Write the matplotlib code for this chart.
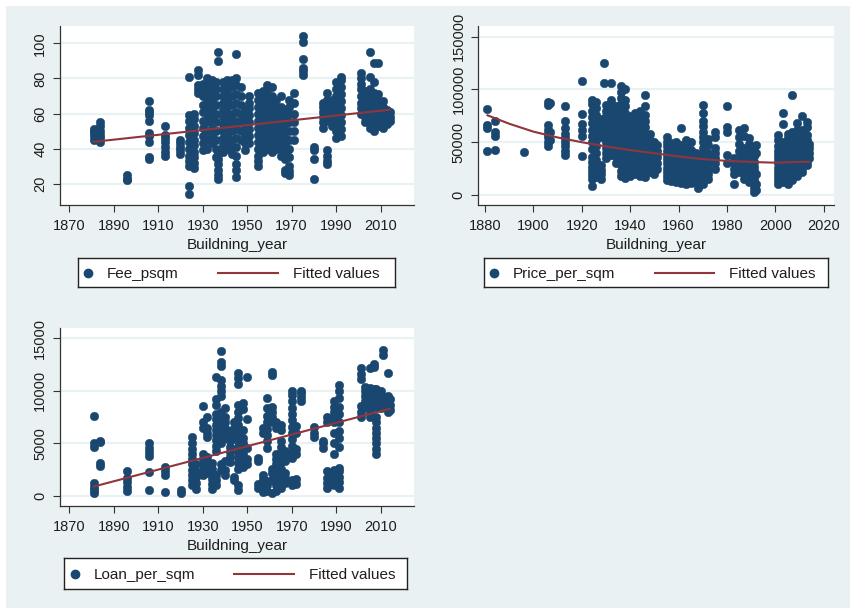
import numpy as np
import matplotlib.pyplot as plt
from matplotlib.patches import Rectangle
from matplotlib.lines import Line2D

plt.rcParams['font.family'] = ['Liberation Sans', 'DejaVu Sans']

# ---- data (one list of y values per building year) ----
fee_years = [1881, 1884, 1896, 1906, 1913, 1920, 1924, 1926, 1928, 1930, 1932, 1934,
             1936, 1937, 1939, 1941, 1943, 1945, 1947, 1949, 1951, 1955, 1957, 1959,
             1961, 1963, 1965, 1967, 1969, 1971, 1975, 1980, 1984, 1986, 1988, 1990,
             1992, 2001, 2003, 2005, 2007, 2009, 2011, 2013, 2014]
fee_vals = [
    [45, 47, 49, 50, 51],
    [44, 46, 48, 50, 53, 55],
    [22, 23, 25],
    [34, 35, 44, 47, 49, 56, 59, 61, 62, 67],
    [36, 38, 41, 44, 46, 48, 53],
    [37, 39, 41, 43, 45],
    [14, 19, 30, 33, 36, 40, 44, 48, 52, 56, 59, 81],
    [29, 32, 35, 38, 42, 45, 49, 53, 57, 60],
    [72, 74, 76, 82, 85],
    [39, 43, 47, 52, 56, 61, 65, 70, 74, 77],
    [40, 45, 50, 55, 60, 64, 68, 72, 76, 80],
    [43, 47, 51, 55, 59, 63, 67, 71, 75, 79],
    [35, 40, 45, 50, 55, 60, 65, 70, 74, 78],
    [23, 25, 28, 31, 34, 37, 90, 95],
    [38, 42, 46, 50, 54, 58, 62, 66, 70, 74, 78],
    [40, 44, 48, 52, 56, 60, 64, 68, 72, 76, 79],
    [37, 41, 45, 50, 55, 60, 65, 70, 75, 79],
    [24, 28, 31, 36, 41, 46, 51, 56, 61, 66, 71, 76, 80, 94],
    [45, 50, 55, 60, 65, 70, 75],
    [39, 43, 47, 52, 57, 62],
    [43, 47, 51, 55, 59, 63, 66, 70],
    [30, 33, 36, 40, 44, 48, 52, 56, 60, 64, 68, 72],
    [38, 42, 46, 50, 54, 58, 62, 66, 70, 73],
    [40, 44, 48, 52, 56, 60, 64, 68, 72, 76],
    [38, 42, 46, 50, 54, 58, 62, 66, 70, 75],
    [40, 44, 48, 52, 56, 60, 64, 68],
    [36, 40, 44, 48, 52, 56, 60, 64, 70],
    [26, 28, 34, 38, 42, 46, 50, 54, 58, 62],
    [25, 27, 30, 35, 40, 45, 50, 55, 60, 64, 68],
    [45, 50, 55, 60, 66, 72],
    [82, 84, 86, 91, 101, 104],
    [23, 34, 39, 41],
    [52, 55, 58, 61, 64, 66],
    [31, 33, 36, 39, 56, 60, 64, 68, 72],
    [53, 57, 61, 64, 68],
    [46, 50, 54, 58, 62, 66, 70, 74, 78],
    [47, 51, 55, 59, 63, 67, 71, 75, 79, 81],
    [60, 63, 66, 70, 74, 77, 80, 83],
    [55, 58, 61, 64, 67, 70, 73],
    [52, 55, 58, 61, 64, 67, 70, 74, 81, 95],
    [50, 53, 56, 59, 62, 65, 68, 72, 78, 89],
    [53, 56, 59, 62, 65, 68, 71, 89],
    [52, 55, 58, 61, 64, 67],
    [54, 57, 60, 62],
    [56, 58, 61],
]
fee_fit_years = [1881, 2014]
fee_fit = [43.9, 62.2]

# price per sqm, in thousands
price_years = [1881, 1884, 1896, 1906, 1907, 1913, 1920, 1924, 1926, 1928, 1929, 1930,
               1932, 1934, 1936, 1938, 1940, 1942, 1944, 1946, 1948, 1950, 1951, 1955,
               1957, 1959, 1961, 1963, 1965, 1967, 1968, 1970, 1972, 1975, 1980, 1983,
               1985, 1987, 1989, 1991, 1992, 2001, 2003, 2005, 2007, 2009, 2011, 2013, 2014]
price_vals_k = [
    [81, 66, 63, 42],
    [70, 60, 56, 43],
    [41],
    [46, 50, 55, 58, 62, 66, 85, 88],
    [52, 60, 87],
    [38, 42, 46, 50, 54, 58, 63, 70, 84],
    [37, 56, 62, 67, 77, 108],
    [9, 15, 19, 23, 27, 31, 36, 44, 50, 56, 62, 68, 74, 80, 86, 90],
    [17, 21, 25, 29, 33, 40, 46, 52, 58, 64, 70, 76, 82, 88],
    [15, 20, 24, 28, 55, 60, 66, 72],
    [125, 106],
    [35, 40, 45, 50, 55, 60, 65, 70, 75, 80, 85],
    [38, 44, 50, 56, 62, 68, 74, 80, 86, 90, 106],
    [30, 36, 42, 48, 54, 60, 66, 72, 78, 84],
    [18, 23, 28, 33, 38, 44, 50, 56, 62, 68, 74, 80, 86, 92, 98, 103],
    [16, 20, 25, 30, 36, 42, 48, 54, 60, 66, 72, 78, 84, 90, 100],
    [18, 23, 28, 33, 39, 45, 51, 57, 63, 69, 75],
    [20, 25, 30, 36, 42, 48, 54, 60, 66, 72, 78],
    [18, 24, 30, 36, 42, 48, 54, 60, 66, 72, 80],
    [17, 22, 28, 34, 40, 46, 52, 58, 64, 70, 76, 84, 95],
    [22, 28, 34, 40, 46, 52, 58],
    [20, 26, 32, 38, 44, 50],
    [25, 30, 36, 42, 47],
    [14, 18, 22, 26, 30, 34, 38, 42, 46, 50, 55],
    [13, 17, 21, 25, 29, 33, 37, 41, 45, 49],
    [12, 16, 20, 24, 28, 32, 36, 40, 44, 50],
    [11, 15, 19, 23, 27, 31, 35, 39, 43, 47, 63],
    [10, 14, 18, 22, 26, 30, 34, 38, 42, 46, 52],
    [11, 15, 19, 23, 27, 31, 35, 39, 43, 50],
    [12, 16, 20, 24, 28, 32, 36, 40],
    [7, 10, 14],
    [10, 15, 20, 25, 30, 35, 40, 45, 50, 55, 60, 65, 70, 78, 85],
    [15, 20, 25, 30, 35, 40, 47, 53],
    [25, 30, 35, 40, 45, 55, 60],
    [30, 38, 60, 64, 84],
    [10, 20, 25, 30, 35],
    [22, 28, 35, 42, 48, 55, 62],
    [15, 20, 25, 30, 35, 40, 45, 56, 63],
    [12, 18, 24, 30, 36, 42, 48, 54],
    [3, 7, 11, 15, 19, 23, 27, 31, 37, 45],
    [5, 10, 20, 40, 47],
    [10, 14, 18, 22, 26, 30, 34, 38, 42, 46, 52, 57],
    [12, 16, 20, 24, 28, 32, 36, 40, 45, 50, 67, 78],
    [10, 14, 18, 22, 26, 30, 34, 38, 42, 46, 50, 54, 58],
    [14, 18, 22, 26, 30, 34, 38, 42, 46, 50, 55, 60, 95],
    [18, 22, 26, 30, 34, 38, 42, 46, 50, 55, 62, 68],
    [22, 26, 30, 34, 38, 42, 46, 50, 56, 62, 75],
    [28, 32, 36, 40, 44, 48, 52, 57, 64, 69],
    [35, 40, 45, 48],
]
price_fit_years = [1881, 1890, 1900, 1910, 1920, 1930, 1940, 1950, 1960, 1970, 1980, 1990, 2000, 2007, 2014]
price_fit_k = [75.5, 67.5, 60.0, 54.5, 50.0, 46.0, 42.5, 39.5, 36.5, 34.0, 32.3, 31.3, 30.6, 31.2, 31.5]

loan_years = [1881, 1884, 1896, 1906, 1913, 1920, 1925, 1927, 1930, 1932, 1934, 1936,
              1938, 1940, 1942, 1944, 1946, 1948, 1950, 1955, 1957, 1959, 1961, 1963,
              1965, 1967, 1970, 1972, 1974, 1980, 1984, 1986, 1989, 1991, 2001, 2003,
              2005, 2007, 2008, 2010, 2011, 2013, 2014]
loan_vals = [
    [300, 600, 900, 1200, 4700, 5000, 7600],
    [2900, 3100, 5100, 5200],
    [500, 900, 1300, 1700, 2400],
    [600, 2300, 3800, 4200, 4600, 5000],
    [400, 2000, 2400, 2800],
    [300, 600],
    [1000, 1500, 2000, 2500, 3000, 3500, 4000, 4500, 5000, 5600],
    [700, 1200, 1800, 2400, 3000],
    [2000, 2500, 3000, 3500, 4000, 6500, 7000, 8600],
    [2200, 2700, 3200, 3700, 5600, 6000, 6500, 7500],
    [700, 1100, 1600, 2100, 2600, 3100],
    [1000, 1500, 2000, 4300, 4800, 5300, 5800, 6300, 6800, 7300, 7800, 8700, 9200, 11300],
    [2500, 3000, 5000, 5500, 6000, 6500, 7000, 7500, 8000, 9500, 10000, 10500, 11000, 12400, 12700, 13800],
    [2000, 2500, 3300, 5500, 6000, 6500, 7000, 7500, 8400],
    [3200, 3700, 4200, 4700, 5200, 5700, 6200],
    [1500, 1800, 5500, 6000, 6500, 7000],
    [600, 1000, 2600, 3100, 3700, 4200, 4700, 5200, 5700, 6200, 6800, 7400, 8000, 8700, 10700, 11200, 11700],
    [2800, 3300, 4000, 4500, 5000, 5500, 6300, 8300, 8800],
    [3000, 3500, 4600, 7300, 11300],
    [800, 1100, 3300, 3600],
    [400, 1000, 1600, 2000, 6000, 6500],
    [500, 1000, 1400, 4600, 5200, 5800, 6400, 7000, 7600, 8400, 9300],
    [300, 1500, 2200, 2600, 7000, 7500, 8000, 8500, 11500, 11800],
    [500, 1000, 1500, 2000, 2500, 3000, 3500, 4000, 6500, 7000],
    [800, 1300, 2000, 2600, 3200, 3700, 4200, 4700, 5200, 6300, 6800],
    [1200, 1700, 2200, 3300, 3800, 4300],
    [1000, 1500, 3600, 4200, 4800, 5400, 6000, 6600, 7200, 7800, 8400, 9000, 9600, 10000],
    [1100, 1600, 4000, 4500, 6000, 6700],
    [9000, 9400, 9800, 10000],
    [5600, 6000, 6600],
    [4600, 5000, 5200],
    [800, 1200, 1700, 2400, 7000, 7500],
    [1000, 1500, 2000, 2500, 4000, 5000, 6000, 7000, 7500, 8000, 8500, 9000],
    [800, 1300, 1800, 2400, 2700, 4700, 5500, 6200, 7000, 7800, 8500, 9300, 10000, 10600],
    [7500, 8000, 8600, 11100, 11600, 12200],
    [8500, 9000, 9500, 10000, 10400],
    [7500, 8000, 8500, 9000, 9500, 10000, 10300, 12200],
    [8800, 9300, 9800, 10200, 12300, 12600],
    [4000, 4500, 5000, 5500, 6000, 6500, 7000, 7500, 8500, 9500, 10200],
    [8400, 8800, 9200, 9600, 10000],
    [13400, 13900],
    [8000, 8500, 9000, 9500, 11700],
    [8200, 8700, 9200],
]
loan_fit_years = [1881, 2014]
loan_fit = [900, 8300]

# ---- style ----
W, H = 850, 608
BG = '#eaf1f3'
NAVY = '#1a476f'
MAROON = '#90353b'
TXT = '#1e1e1e'


def px_box(l, t, r, b):
    return [l / W, 1 - b / H, (r - l) / W, (b - t) / H]


def flatten(years, vals, scale=1):
    xs, ys = [], []
    for yr, col in zip(years, vals):
        for v in col:
            xs.append(yr)
            ys.append(v * scale)
    return xs, ys


fig = plt.figure(figsize=(W / 100, H / 100), dpi=100, facecolor=BG)
# thin white strip along the top and left edge
fig.patches.append(Rectangle((0, 0), 6 / W, 1, transform=fig.transFigure,
                             facecolor='white', edgecolor='none', zorder=-10))
fig.patches.append(Rectangle((0, 1 - 6 / H), 1, 6 / H, transform=fig.transFigure,
                             facecolor='white', edgecolor='none', zorder=-10))


def panel(box, years, vals, fit_x, fit_y, xlim, ylim, xticks, yticks, scale=1):
    ax = fig.add_axes(px_box(*box))
    ax.set_facecolor('white')
    xs, ys = flatten(years, vals, scale)
    ax.scatter(xs, ys, s=38, color=NAVY, edgecolor=NAVY, linewidth=0.3, zorder=3)
    ax.plot(fit_x, np.array(fit_y) * scale, color=MAROON, lw=1.5, zorder=4)
    ax.set_xlim(*xlim)
    ax.set_ylim(*ylim)
    ax.set_xticks(xticks)
    ax.set_yticks(yticks)
    ax.set_yticklabels([str(int(t)) for t in yticks], rotation=90, va='center')
    for t in yticks:
        ax.axhline(t, color=BG, lw=1.6, zorder=1)
    for s in ['top', 'right']:
        ax.spines[s].set_visible(False)
    for s in ['left', 'bottom']:
        ax.spines[s].set_color('#333333')
        ax.spines[s].set_linewidth(0.9)
    ax.tick_params(direction='out', length=5, width=0.8, color='#333333',
                   labelsize=10.5, labelcolor=TXT)
    ax.tick_params(axis='x', pad=5)
    ax.tick_params(axis='y', pad=4)
    ax.set_xlabel('Buildning_year', fontsize=11, color=TXT)
    ax.xaxis.set_label_coords(0.5, -(40 / (box[3] - box[1])))
    ax.xaxis.label.set_va('center')
    return ax


def legend_box(box, marker_x, label1, line_x, label2):
    l, t, r, b = box
    lax = fig.add_axes(px_box(l, t, r, b))
    lax.set_xlim(l, r)
    lax.set_ylim(b, t)
    lax.set_xticks([])
    lax.set_yticks([])
    lax.set_facecolor('white')
    for s in lax.spines.values():
        s.set_color('#222222')
        s.set_linewidth(1.0)
    ym = (t + b) / 2
    lax.add_line(Line2D([marker_x], [ym], marker='o', ms=6, color=NAVY, ls='none'))
    lax.text(marker_x + 19, ym, label1, va='center_baseline', ha='left', fontsize=11, color=TXT)
    lax.add_line(Line2D(line_x, [ym, ym], color=MAROON, lw=1.5))
    lax.text(line_x[1] + 15, ym, label2, va='center_baseline', ha='left', fontsize=11, color=TXT)


panel((59.7, 26, 414, 205), fee_years, fee_vals, fee_fit_years, fee_fit,
      (1865.7, 2025), (7.9, 109.9), range(1870, 2011, 20), [20, 40, 60, 80, 100])
legend_box((78, 258, 395, 287), 88, 'Fee_psqm', [218, 278], 'Fitted values')

panel((478.3, 26, 834.3, 205), price_years, price_vals_k, price_fit_years, price_fit_k,
      (1877.2, 2024.3), (-9470, 160100), range(1880, 2021, 20),
      [0, 50000, 100000, 150000], scale=1000)
legend_box((484.3, 258, 828.3, 287), 494, 'Price_per_sqm', [655, 714], 'Fitted values')

panel((59.7, 328.3, 414.3, 506), loan_years, loan_vals, loan_fit_years, loan_fit,
      (1865.7, 2025), (-950, 15950), range(1870, 2011, 20), [0, 5000, 10000, 15000])
legend_box((64.3, 558.3, 407.3, 588.7), 75, 'Loan_per_sqm', [234, 294], 'Fitted values')

fig.savefig('out.png', dpi=100, facecolor=fig.get_facecolor())
